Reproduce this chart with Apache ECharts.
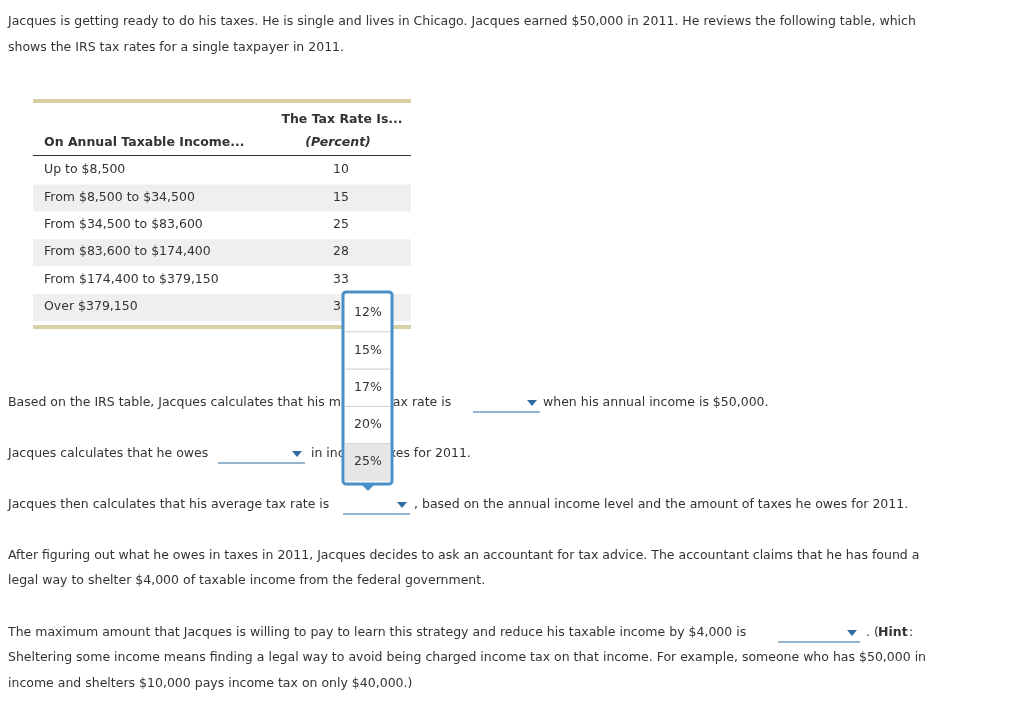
<!DOCTYPE html>
<html>
<head>
<meta charset="utf-8">
<script src="https://cdn.jsdelivr.net/npm/echarts@6/dist/echarts.min.js"></script>
<style>html,body{margin:0;background:#fff}#main{width:1024px;height:719px}</style>
</head>
<body>
<div id="main"></div>
<script>
// table data
var incomeBrackets = ["Up to $8,500", "From $8,500 to $34,500", "From $34,500 to $83,600",
    "From $83,600 to $174,400", "From $174,400 to $379,150", "Over $379,150"];
var taxRates = [10, 15, 25, 28, 33, 35];
var dropdownOptions = ["12%", "15%", "17%", "20%", "25%"];

var FONT = "DejaVu Sans";
var C = "#333";
var els = [];

function txt(x, y, s, opt) {
    opt = opt || {};
    els.push({
        type: "text", x: x, y: y, z: opt.z || 1,
        style: {
            text: s, fill: opt.color || C, fontFamily: FONT,
            fontSize: opt.size || 12.5, fontWeight: opt.bold ? "bold" : "normal",
            fontStyle: opt.italic ? "italic" : "normal",
            align: opt.align || "left", verticalAlign: "middle"
        }
    });
}
function rect(x, y, w, h, fill, z) {
    els.push({type: "rect", z: z || 0, shape: {x: x, y: y, width: w, height: h}, style: {fill: fill}});
}
function blank(x1, x2, y) {
    els.push({type: "line", shape: {x1: x1, y1: y + 9, x2: x2, y2: y + 9}, style: {stroke: "#2e6da4", lineWidth: 1}});
    els.push({type: "polygon", shape: {points: [[x2 - 13, y - 3], [x2 - 3, y - 3], [x2 - 8, y + 3]]}, style: {fill: "#2e6da4"}});
}

// intro
txt(8, 22, "Jacques is getting ready to do his taxes. He is single and lives in Chicago. Jacques earned $50,000 in 2011. He reviews the following table, which");
txt(8, 48, "shows the IRS tax rates for a single taxpayer in 2011.");

// table
rect(33, 99, 378, 4, "#d8d0a4");
txt(342, 120, "The Tax Rate Is...", {bold: true, align: "center"});
txt(44, 143, "On Annual Taxable Income...", {bold: true});
txt(338, 143, "(Percent)", {bold: true, italic: true, align: "center"});
rect(33, 155, 378, 1, "#333");
incomeBrackets.forEach(function (b, i) {
    var y = 170 + i * 27.4;
    if (i % 2 === 1) rect(33, y - 13, 378, 27, "#efefef");
    txt(44, y, b);
    txt(341, y, String(taxRates[i]), {align: "center"});
});
rect(33, 325, 378, 4, "#d8d0a4");

// questions
txt(8, 403, "Based on the IRS table, Jacques calculates that his marginal tax rate is");
blank(473, 540, 403);
txt(543, 403, "when his annual income is $50,000.");
txt(8, 454, "Jacques calculates that he owes");
blank(218, 305, 454);
txt(311, 454, "in income taxes for 2011.");
txt(8, 505, "Jacques then calculates that his average tax rate is");
blank(343, 410, 505);
txt(414, 505, ", based on the annual income level and the amount of taxes he owes for 2011.");
txt(8, 556, "After figuring out what he owes in taxes in 2011, Jacques decides to ask an accountant for tax advice. The accountant claims that he has found a");
txt(8, 581, "legal way to shelter $4,000 of taxable income from the federal government.");
txt(8, 633, "The maximum amount that Jacques is willing to pay to learn this strategy and reduce his taxable income by $4,000 is");
blank(778, 860, 633);
txt(866, 633, ". (");
txt(878, 633, "Hint", {bold: true});
txt(909, 633, ":");
txt(8, 658, "Sheltering some income means finding a legal way to avoid being charged income tax on that income. For example, someone who has $50,000 in");
txt(8, 684, "income and shelters $10,000 pays income tax on only $40,000.)");

// dropdown popup
els.push({type: "rect", z: 5, shape: {x: 343, y: 292, width: 49, height: 192, r: 3},
    style: {fill: "#fff", stroke: "#4a90c8", lineWidth: 3}});
els.push({type: "polygon", z: 5, shape: {points: [[361, 484], [375, 484], [368, 491]]}, style: {fill: "#4a90c8"}});
dropdownOptions.forEach(function (o, i) {
    var y = 313 + i * 37.3;
    if (i === dropdownOptions.length - 1) rect(345, y - 18, 45, 37, "#e6e6e6", 6);
    if (i > 0) els.push({type: "line", z: 6, shape: {x1: 345, y1: y - 18.5, x2: 390, y2: y - 18.5}, style: {stroke: "#ccc"}});
    txt(368, y, o, {align: "center", z: 7});
});

var chart = echarts.init(document.getElementById("main"));
chart.setOption({animation: false, graphic: {elements: els}});
</script>
</body>
</html>
